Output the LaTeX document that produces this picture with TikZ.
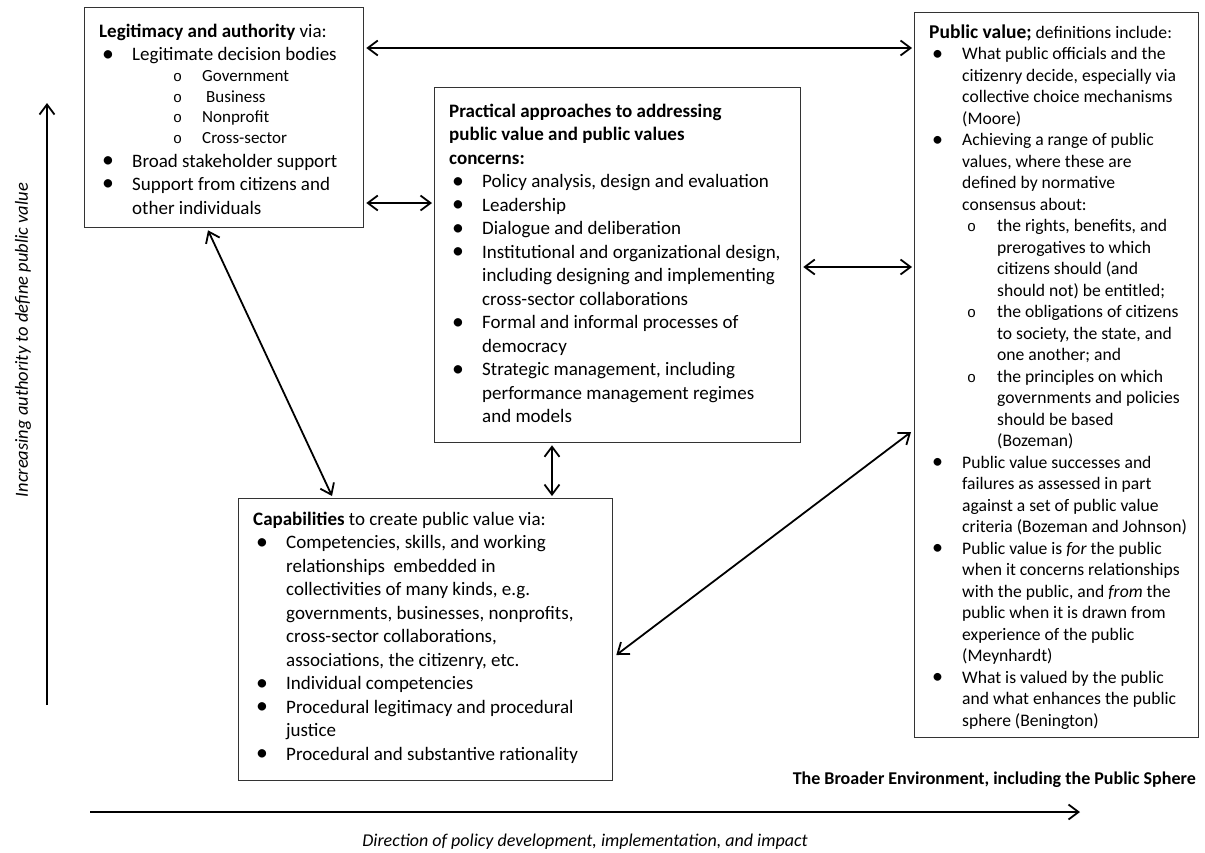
\documentclass[tikz,border=0pt]{standalone}
\usepackage{fontspec}
\usepackage{graphicx}
\setmainfont{Carlito}
\newfontfamily\monofont{Liberation Mono}
\usetikzlibrary{arrows.meta,calc}
\newcommand\subbullet{{\monofont\fontsize{15}{15}\selectfont o}}
\newcommand\bul{\raisebox{-0.3pt}{\scalebox{1.25}{\textbullet}}}
\newcommand\firstline{\rule{0pt}{20pt}}
\newcommand\titleline[1]{\noindent\firstline#1\par}
\newcommand\tline[1]{\noindent#1\par}
\newcommand\bitem[1]{\noindent\hspace*{3pt}\makebox[30pt][l]{\bul}#1\par}
\newcommand\bcont[1]{\noindent\hspace*{33pt}#1\par}
\newcommand\sitem[3]{\noindent\hspace*{#1pt}\makebox[#2pt][l]{\subbullet}#3\par}
\newcommand\scont[2]{\noindent\hspace*{#1pt}#2\par}
\begin{document}
\begin{tikzpicture}[x=1pt,y=-1pt,
  box/.style={draw=black!80, line width=1.3pt, inner sep=0pt, anchor=north west},
  txt/.style={anchor=north west, inner sep=0pt, text width=420pt, align=flush left, font=\fontsize{19}{23.5}\selectfont},
  conn/.style={line width=1.8pt, {Straight Barb[length=10pt,width=15pt]}-{Straight Barb[length=10pt,width=15pt]}},
  axis/.style={line width=1.8pt, -{Straight Barb[length=10pt,width=15pt]}},
  lab/.style={inner sep=0pt}]
\fill[white] (0,0) rectangle (1205,852);
\useasboundingbox (0,0) rectangle (1205,852);

% boxes
\node[box, minimum width=279pt, minimum height=220pt] (leg) at (84,7) {};
\node[box, minimum width=366pt, minimum height=355pt] (prac) at (434,87) {};
\node[box, minimum width=284pt, minimum height=725pt] (pv) at (914,12) {};
\node[box, minimum width=374pt, minimum height=282pt] (cap) at (238,498) {};

% legitimacy text
\node[txt] (legt) at (99,17) {%
\titleline{\textbf{Legitimacy and authority} via:}
\bitem{Legitimate decision bodies}
{\fontsize{17}{20.7}\selectfont
\sitem{74}{29}{Government}
\sitem{74}{29}{\hspace*{4pt}Business}
\sitem{74}{29}{Nonprofit}
\sitem{74}{29}{Cross-sector}}
\bitem{Broad stakeholder support}
\bitem{Support from citizens and}
\bcont{other individuals}};

% practical text
\node[txt] (pract) at (449,97) {%
\titleline{\textbf{Practical approaches to addressing}}
\tline{\textbf{public value and public values}}
\tline{\textbf{concerns:}}
\bitem{Policy analysis, design and evaluation}
\bitem{Leadership}
\bitem{Dialogue and deliberation}
\bitem{Institutional and organizational design,}
\bcont{including designing and implementing}
\bcont{cross-sector collaborations}
\bitem{Formal and informal processes of}
\bcont{democracy}
\bitem{Strategic management, including}
\bcont{performance management regimes}
\bcont{and models}};

% public value text
\node[txt, font=\fontsize{17.6}{21.5}\selectfont] (pvt) at (929,18) {%
\titleline{{\fontsize{19.5}{21.5}\selectfont\textbf{Public value;}} definitions include:}
\bitem{What public officials and the}
\bcont{citizenry decide, especially via}
\bcont{collective choice mechanisms}
\bcont{(Moore)}
\bitem{Achieving a range of public}
\bcont{values, where these are}
\bcont{defined by normative}
\bcont{consensus about:}
\sitem{38}{30}{the rights, benefits, and}
\scont{68}{prerogatives to which}
\scont{68}{citizens should (and}
\scont{68}{should not) be entitled;}
\sitem{38}{30}{the obligations of citizens}
\scont{68}{to society, the state, and}
\scont{68}{one another; and}
\sitem{38}{30}{the principles on which}
\scont{68}{governments and policies}
\scont{68}{should be based}
\scont{68}{(Bozeman)}
\bitem{Public value successes and}
\bcont{failures as assessed in part}
\bcont{against a set of public value}
\bcont{criteria (Bozeman and Johnson)}
\bitem{Public value is \textit{for} the public}
\bcont{when it concerns relationships}
\bcont{with the public, and \textit{from} the}
\bcont{public when it is drawn from}
\bcont{experience of the public}
\bcont{(Meynhardt)}
\bitem{What is valued by the public}
\bcont{and what enhances the public}
\bcont{sphere (Benington)}};

% capabilities text
\node[txt] (capt) at (253,505) {%
\titleline{\textbf{Capabilities} to create public value via:}
\bitem{Competencies, skills, and working}
\bcont{relationships\ \ embedded in}
\bcont{collectivities of many kinds, e.g.}
\bcont{governments, businesses, nonprofits,}
\bcont{cross-sector collaborations,}
\bcont{associations, the citizenry, etc.}
\bitem{Individual competencies}
\bitem{Procedural legitimacy and procedural}
\bcont{justice}
\bitem{Procedural and substantive rationality}};

% connectors
\draw[conn] ($(leg.north east)+(2,41)$) -- ($(pv.north west)+(-2,36)$);
\draw[conn] ($(leg.north east)+(2,196)$) -- ($(prac.north west)+(-2,116)$);
\draw[conn] ($(prac.north east)+(2,180)$) -- ($(pv.north west)+(-2,255)$);
\draw[conn] ($(leg.south west)+(124,2)$) -- ($(cap.north west)+(94,-2)$);
\draw[conn] ($(prac.south west)+(118,2)$) -- ($(cap.north west)+(314,-2)$);
\draw[conn] ($(pv.north west)+(-3,420)$) -- ($(cap.north east)+(3,157)$);

% axes
\coordinate (ybot) at (47,705);
\coordinate (ytop) at (47,103);
\draw[axis] (ybot) -- (ytop);
\coordinate (xl) at (90,812);
\coordinate (xr) at (1080,812);
\draw[axis] (xl) -- (xr);

\node[lab, rotate=90, font=\itshape\fontsize{18.5}{22}\selectfont] (auth) at (23,340) {Increasing authority to define public value};
\node[lab, anchor=base east, font=\bfseries\fontsize{18}{22}\selectfont] (env) at (1196,784) {The Broader Environment, including the Public Sphere};
\node[lab, anchor=base, font=\itshape\fontsize{18}{22}\selectfont] (dir) at (585,846) {Direction of policy development, implementation, and impact};
\end{tikzpicture}
\end{document}
